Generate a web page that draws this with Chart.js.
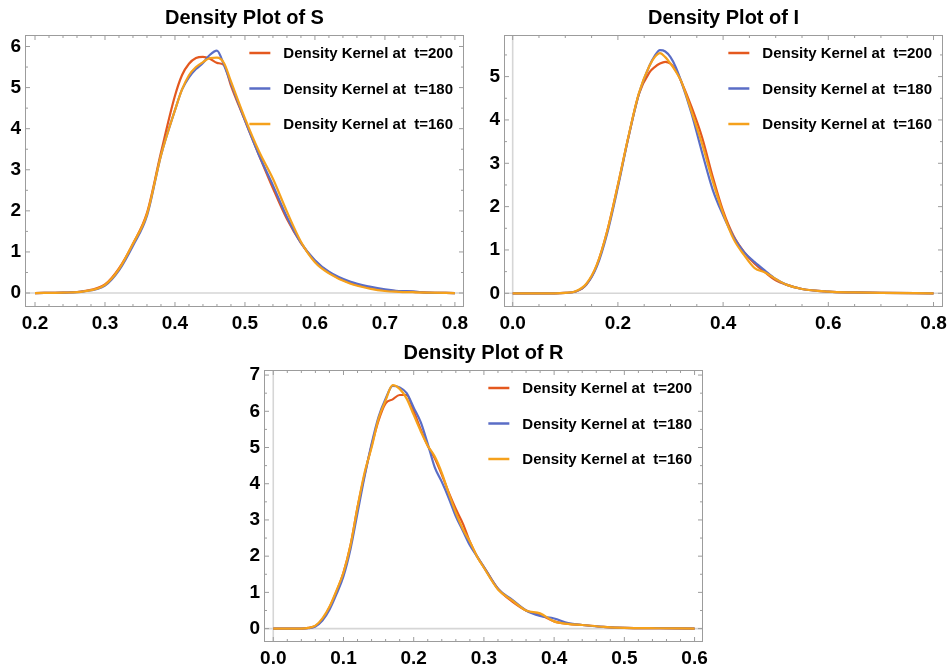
<!DOCTYPE html>
<html>
<head>
<meta charset="utf-8">
<script src="https://cdn.jsdelivr.net/npm/chart.js@4.4.1/dist/chart.umd.min.js"></script>
<style>
  body { margin: 0; background: #fff; }
  .box { position: absolute; }
</style>
</head>
<body>
<div class="box" style="left:0;top:0;width:476px;height:335px"><canvas id="chartS"></canvas></div>
<div class="box" style="left:476px;top:0;width:476px;height:335px"><canvas id="chartI"></canvas></div>
<div class="box" style="left:220px;top:335px;width:500px;height:333px"><canvas id="chartR"></canvas></div>
<script>
// series labels
const seriesLabels = ['Density Kernel at  t=200', 'Density Kernel at  t=180', 'Density Kernel at  t=160'];

// S
const sX = [0.20,0.24,0.27,0.30,0.32,0.34,0.36,0.38,0.40,0.41,0.42,0.43,0.44,0.45,0.46,0.47,0.48,0.50,0.52,0.54,0.56,0.58,0.60,0.62,0.65,0.68,0.70,0.72,0.74,0.76,0.80];
const sT200 = [0,0.01,0.05,0.21,0.6,1.2,1.95,3.42,4.8,5.3,5.58,5.72,5.75,5.7,5.6,5.55,5.05,4.2,3.36,2.55,1.8,1.22,0.78,0.5,0.25,0.12,0.07,0.04,0.03,0.01,0];
const sT180 = [0,0.01,0.04,0.18,0.55,1.15,1.88,3.35,4.45,4.95,5.25,5.45,5.6,5.8,5.9,5.55,5.1,4.2,3.36,2.62,1.85,1.22,0.8,0.52,0.28,0.15,0.09,0.05,0.04,0.01,0];
const sT160 = [0,0.01,0.04,0.2,0.58,1.2,1.92,3.35,4.45,4.95,5.3,5.5,5.62,5.72,5.73,5.6,5.15,4.25,3.45,2.78,1.98,1.25,0.75,0.48,0.23,0.1,0.05,0.03,0.02,0.01,0];
const sTickX = [0.2,0.3,0.4,0.5,0.6,0.7,0.8];
const sTickY = [0,1,2,3,4,5,6];

// I
const iX = [0,0.08,0.10,0.12,0.14,0.16,0.18,0.20,0.22,0.24,0.26,0.27,0.28,0.29,0.30,0.31,0.32,0.34,0.36,0.38,0.40,0.42,0.44,0.46,0.48,0.50,0.52,0.55,0.60,0.65,0.70,0.80];
const iT200 = [0,0,0.01,0.04,0.2,0.65,1.45,2.5,3.6,4.6,5.1,5.22,5.3,5.34,5.3,5.15,4.9,4.3,3.6,2.7,1.9,1.32,0.95,0.68,0.48,0.3,0.2,0.1,0.04,0.02,0.01,0];
const iT180 = [0,0,0.01,0.04,0.2,0.62,1.4,2.45,3.6,4.6,5.25,5.48,5.61,5.58,5.45,5.22,4.9,4.15,3.25,2.4,1.8,1.3,0.95,0.72,0.52,0.33,0.2,0.1,0.04,0.02,0.01,0];
const iT160 = [0,0,0.01,0.05,0.22,0.66,1.45,2.5,3.62,4.62,5.25,5.45,5.54,5.45,5.3,5.12,4.9,4.2,3.45,2.6,1.85,1.25,0.88,0.58,0.48,0.33,0.2,0.1,0.04,0.02,0.01,0];
const iTickX = [0,0.2,0.4,0.6,0.8];
const iTickY = [0,1,2,3,4,5];

// R
const rX = [0,0.04,0.05,0.06,0.07,0.08,0.09,0.10,0.11,0.12,0.13,0.14,0.15,0.16,0.17,0.18,0.19,0.20,0.21,0.22,0.23,0.24,0.25,0.26,0.27,0.28,0.29,0.30,0.32,0.34,0.36,0.38,0.40,0.42,0.44,0.47,0.50,0.55,0.60];
const rT200 = [0,0,0.02,0.07,0.25,0.58,1.02,1.55,2.3,3.35,4.25,5.05,5.75,6.22,6.33,6.45,6.45,6.0,5.5,5.05,4.7,4.25,3.75,3.3,2.9,2.4,2.0,1.7,1.1,0.75,0.5,0.38,0.2,0.13,0.1,0.05,0.02,0.01,0];
const rT180 = [0,0,0.01,0.06,0.22,0.52,0.95,1.45,2.2,3.2,4.2,5.1,5.85,6.35,6.7,6.66,6.5,6.1,5.7,5.1,4.45,4.05,3.6,3.1,2.7,2.3,2.0,1.7,1.1,0.8,0.5,0.35,0.28,0.15,0.1,0.05,0.02,0.01,0];
const rT160 = [0,0,0.02,0.08,0.28,0.6,1.05,1.55,2.3,3.35,4.3,5.0,5.8,6.3,6.72,6.62,6.35,5.9,5.45,5.05,4.75,4.3,3.73,3.2,2.75,2.4,2.0,1.68,1.08,0.78,0.5,0.42,0.2,0.13,0.1,0.05,0.02,0.01,0];
const rTickX = [0,0.1,0.2,0.3,0.4,0.5,0.6];
const rTickY = [0,1,2,3,4,5,6,7];

const colors = ['#e4581e', '#5a6dc6', '#f5a11c'];
const FONT = '"Liberation Sans", Arial, sans-serif';

// frame, inward ticks, zero lines and the legend inside the plot
const framePlugin = {
    id: 'frame',
    beforeDatasetsDraw(chart) {
        const { ctx, chartArea: a, scales: { x, y } } = chart;
        ctx.save();
        ctx.strokeStyle = '#d6d6d6';
        ctx.lineWidth = 1.6;
        ctx.beginPath();
        const y0 = y.getPixelForValue(0);
        ctx.moveTo(a.left, y0); ctx.lineTo(a.right, y0);
        if (x.min < 0) {
            const x0 = x.getPixelForValue(0);
            ctx.moveTo(x0, a.top); ctx.lineTo(x0, a.bottom);
        }
        ctx.stroke();
        ctx.restore();
    },
    afterDraw(chart) {
        const { ctx, chartArea: a, scales: { x, y } } = chart;
        const o = chart.options.plugins.frame;
        ctx.save();
        ctx.strokeStyle = '#9c9c9c';
        ctx.lineWidth = 1;
        ctx.strokeRect(a.left + 0.5, a.top + 0.5, a.right - a.left - 1, a.bottom - a.top - 1);

        ctx.beginPath();
        const marks = (scale, step, majors, draw) => {
            const k0 = Math.ceil(scale.min / step - 1e-9), k1 = Math.floor(scale.max / step + 1e-9);
            for (let k = k0; k <= k1; k++) {
                const v = k * step;
                const major = majors.some(m => Math.abs(m - v) < step / 10);
                draw(scale.getPixelForValue(v), major ? 5 : 3);
            }
        };
        marks(x, o.minorX, o.tickX, (px, len) => {
            ctx.moveTo(px, a.bottom); ctx.lineTo(px, a.bottom - len);
            ctx.moveTo(px, a.top); ctx.lineTo(px, a.top + len);
        });
        marks(y, o.minorY, o.tickY, (py, len) => {
            ctx.moveTo(a.left, py); ctx.lineTo(a.left + len, py);
            ctx.moveTo(a.right, py); ctx.lineTo(a.right - len, py);
        });
        ctx.stroke();

        // legend
        ctx.font = 'bold 15px ' + FONT;
        ctx.textBaseline = 'middle';
        ctx.textAlign = 'left';
        const widest = Math.max(...chart.data.datasets.map(d => ctx.measureText(d.label).width));
        const tx = a.right - 11 - widest;
        chart.data.datasets.forEach((d, i) => {
            const ly = a.top + 18 + i * 35.5;
            ctx.strokeStyle = d.borderColor;
            ctx.lineWidth = 2.5;
            ctx.beginPath();
            ctx.moveTo(tx - 34, ly); ctx.lineTo(tx - 13, ly);
            ctx.stroke();
            ctx.fillStyle = '#000';
            ctx.fillText(d.label, tx, ly + 1);
        });
        ctx.restore();
    }
};

function makeChart(id, cfg) {
    const { title, xs, series, tickX, tickY, xMin, xMax, yMin, yMax, minorX, minorY, area, w, h, digits } = cfg;
    return new Chart(document.getElementById(id), {
        type: 'line',
        data: {
            datasets: series.map((vals, i) => ({
                label: seriesLabels[i],
                data: xs.map((xv, j) => ({ x: xv, y: vals[j] })),
                borderColor: colors[i],
                borderWidth: 2.2,
                pointRadius: 0,
                fill: false,
                cubicInterpolationMode: 'monotone',
                order: 3 - i
            }))
        },
        options: {
            responsive: true,
            maintainAspectRatio: false,
            animation: false,
            events: [],
            layout: { padding: { left: 0, top: 0, bottom: 0, right: w - area.right } },
            plugins: {
                legend: { display: false },
                tooltip: { enabled: false },
                title: {
                    display: true,
                    text: title,
                    fullSize: false,
                    color: '#000',
                    font: { family: FONT, size: 20, weight: 'bold', lineHeight: 1.2 },
                    padding: { top: 6, bottom: area.top - 30 }
                },
                frame: { tickX, tickY, minorX, minorY }
            },
            scales: {
                x: {
                    type: 'linear',
                    min: xMin, max: xMax,
                    grid: { display: false, drawTicks: false },
                    border: { display: false },
                    afterBuildTicks: s => { s.ticks = tickX.map(v => ({ value: v })); },
                    afterFit: s => { s.height = h - area.bottom; },
                    ticks: {
                        color: '#000',
                        padding: 5,
                        maxRotation: 0,
                        font: { family: FONT, size: 19, weight: 'bold' },
                        callback: v => v.toFixed(digits)
                    }
                },
                y: {
                    type: 'linear',
                    min: yMin, max: yMax,
                    grid: { display: false, drawTicks: false },
                    border: { display: false },
                    afterBuildTicks: s => { s.ticks = tickY.map(v => ({ value: v })); },
                    afterFit: s => { s.width = area.left; },
                    ticks: {
                        color: '#000',
                        padding: 4,
                        font: { family: FONT, size: 19, weight: 'bold' },
                        callback: v => String(v)
                    }
                }
            }
        },
        plugins: [framePlugin]
    });
}

document.addEventListener('DOMContentLoaded', function () {
    makeChart('chartS', {
        title: 'Density Plot of S', xs: sX, series: [sT200, sT180, sT160],
        tickX: sTickX, tickY: sTickY, xMin: 0.1857, xMax: 0.813, yMin: -0.34, yMax: 6.28,
        minorX: 0.02, minorY: 0.5, digits: 1, w: 476, h: 335,
        area: { left: 25, right: 464, top: 35, bottom: 307 }
    });
    makeChart('chartI', {
        title: 'Density Plot of I', xs: iX, series: [iT200, iT180, iT160],
        tickX: iTickX, tickY: iTickY, xMin: -0.0165, xMax: 0.818, yMin: -0.316, yMax: 5.96,
        minorX: 0.05, minorY: 0.5, digits: 1, w: 476, h: 335,
        area: { left: 28, right: 467, top: 35, bottom: 307 }
    });
    makeChart('chartR', {
        title: 'Density Plot of R', xs: rX, series: [rT200, rT180, rT160],
        tickX: rTickX, tickY: rTickY, xMin: -0.0132, xMax: 0.612, yMin: -0.37, yMax: 7.14,
        minorX: 0.02, minorY: 0.5, digits: 1, w: 500, h: 333,
        area: { left: 44, right: 483, top: 35, bottom: 307 }
    });
});
</script>
</body>
</html>
